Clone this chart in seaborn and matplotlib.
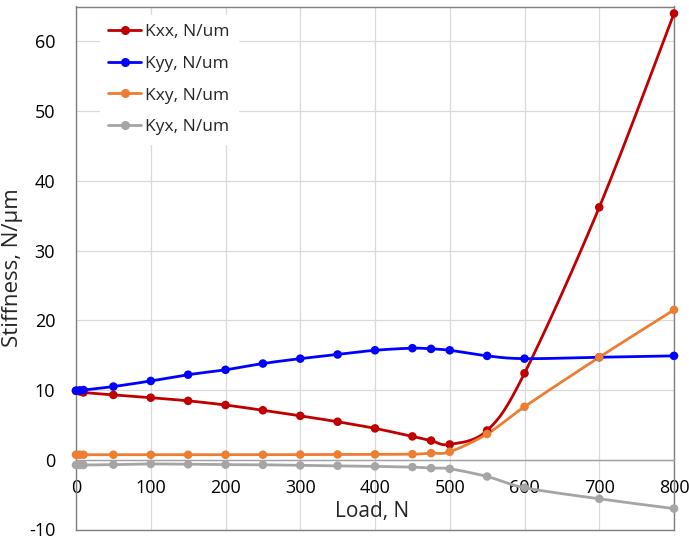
import numpy as np
import pandas as pd
import matplotlib
matplotlib.use("Agg")
import matplotlib.pyplot as plt
from matplotlib.lines import Line2D
import seaborn as sns

# Load points (N)
load = [0, 5, 10, 50, 100, 150, 200, 250, 300, 350, 400, 450, 475, 500, 550, 600, 700, 800]

# Stiffness coefficients (N/um)
kxx = [9.9, 9.8, 9.65, 9.3, 8.9, 8.45, 7.85, 7.1, 6.3, 5.45, 4.5, 3.35, 2.75, 2.2, 4.2, 12.4, 36.2, 64.0]
kyy = [9.9, 9.95, 10.0, 10.5, 11.3, 12.2, 12.9, 13.8, 14.5, 15.1, 15.7, 16.0, 15.9, 15.7, 14.9, 14.5, 14.7, 14.9]
kxy = [0.72, 0.72, 0.72, 0.72, 0.72, 0.72, 0.72, 0.72, 0.74, 0.76, 0.78, 0.8, 0.95, 1.15, 3.7, 7.6, 14.7, 21.5]
kyx = [-0.75, -0.75, -0.75, -0.7, -0.6, -0.65, -0.7, -0.72, -0.8, -0.85, -0.95, -1.05, -1.2, -1.3, -2.4, -4.0, -5.6, -7.0]

series_names = ["Kxx, N/um", "Kyy, N/um", "Kxy, N/um", "Kyx, N/um"]
series_vals = [kxx, kyy, kxy, kyx]
colors = ["#C00000", "#0000FF", "#ED7D31", "#A5A5A5"]


def smooth_curve(x, y, n=30):
    """Bezier smoothing through every point (control points at 1/6 of neighbour chord)."""
    p = np.column_stack([x, y]).astype(float)
    pts = []
    m = len(p)
    t = np.linspace(0, 1, n)[:, None]
    for i in range(m - 1):
        p0 = p[i]
        p3 = p[i + 1]
        prev = p[i - 1] if i > 0 else p[i]
        nxt = p[i + 2] if i + 2 < m else p[i + 1]
        c1 = p0 + (p3 - prev) / 6.0
        c2 = p3 - (nxt - p0) / 6.0
        seg = ((1 - t) ** 3) * p0 + 3 * ((1 - t) ** 2) * t * c1 + 3 * (1 - t) * t ** 2 * c2 + t ** 3 * p3
        pts.append(seg if i == 0 else seg[1:])
    return np.vstack(pts)


rows = []
curve_rows = []
for name, vals in zip(series_names, series_vals):
    for x, y in zip(load, vals):
        rows.append({"Load": x, "Stiffness": y, "Series": name})
    c = smooth_curve(load, vals)
    for k, (x, y) in enumerate(c):
        curve_rows.append({"Load": x, "Stiffness": y, "Series": name, "order": k})
points = pd.DataFrame(rows)
curves = pd.DataFrame(curve_rows)

sns.set_style("white")
plt.rcParams["font.family"] = ["Open Sans", "DejaVu Sans"]
plt.rcParams["axes.unicode_minus"] = False

fig = plt.figure(figsize=(6.89, 5.39), dpi=100)
ax = fig.add_axes([76 / 689, 9.5 / 539, 598 / 689, 523 / 539])

palette = dict(zip(series_names, colors))
sns.lineplot(data=curves, x="Load", y="Stiffness", hue="Series", palette=palette,
             sort=False, estimator=None, units="Series", linewidth=2.0, ax=ax,
             legend=False, zorder=3)
sns.scatterplot(data=points, x="Load", y="Stiffness", hue="Series", palette=palette,
                s=38, edgecolor="none", ax=ax, legend=False, zorder=4, clip_on=False)

ax.set_xlim(0, 800)
ax.set_ylim(-10, 65)
ax.set_xticks(np.arange(0, 801, 100))
ax.set_yticks(np.arange(-10, 61, 10))
ax.grid(True, color="#D9D9D9", linewidth=0.9)
ax.set_axisbelow(True)

frame_color = "#7F7F7F"
for side in ["left", "right", "top"]:
    ax.spines[side].set_visible(True)
    ax.spines[side].set_color(frame_color)
    ax.spines[side].set_linewidth(1.0)
ax.spines["bottom"].set_position(("data", 0))
ax.spines["bottom"].set_color("#A0A0A0")
ax.spines["bottom"].set_linewidth(1.0)
ax.axhline(-10, color=frame_color, linewidth=1.0, clip_on=False, zorder=5)

ax.tick_params(axis="x", length=0, pad=14, labelsize=13, colors="black")
ax.tick_params(axis="y", length=0, pad=15, labelsize=13, colors="black")

ax.set_ylabel("Stiffness, N/μm", fontsize=16)
ax.yaxis.set_label_coords(-0.089, 0.5)
ax.set_xlabel("Load, N", fontsize=15)
ax.xaxis.set_label_coords(0.495, 0.055)

handles = [Line2D([0], [0], color=c, linewidth=2.0, marker="o", markersize=5.5) for c in colors]
leg = ax.legend(handles, series_names, loc="upper left", bbox_to_anchor=(0.025, 1.0),
                fontsize=12.5, frameon=True, facecolor="white", edgecolor="white",
                framealpha=1.0, fancybox=False, labelspacing=0.9, handlelength=1.9,
                handletextpad=0.2, borderpad=0.5)
leg.set_zorder(6)

fig.savefig("out.png", dpi=100, facecolor="white")
